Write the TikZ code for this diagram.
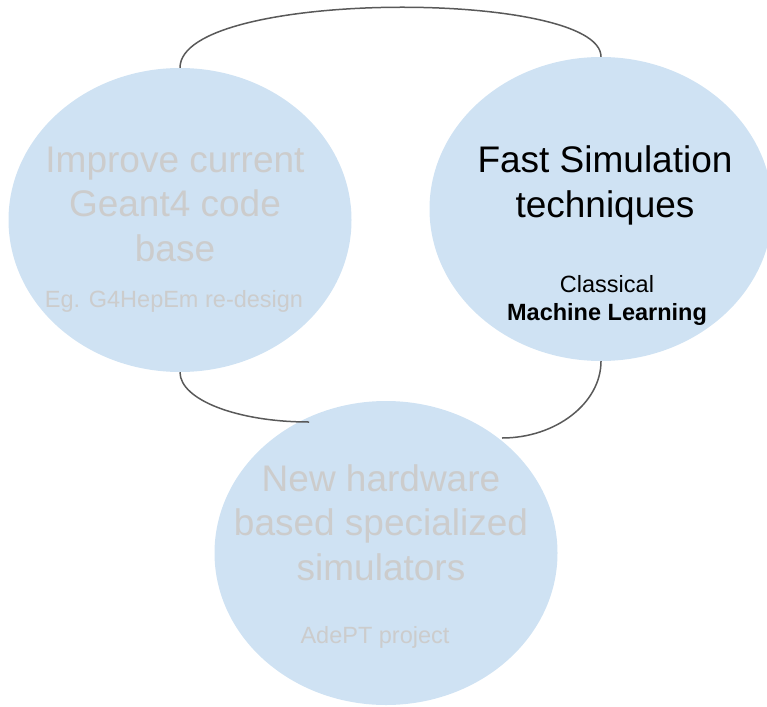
\documentclass[tikz,border=0pt]{standalone}
\usepackage{fontspec}
\setmainfont{Liberation Sans}
\usetikzlibrary{shapes.geometric}
\definecolor{bubble}{HTML}{CFE2F3}
\definecolor{faded}{HTML}{CCCCCC}
\definecolor{link}{HTML}{595959}
\begin{document}
\begin{tikzpicture}[x=1pt,y=-1pt,
  bubblenode/.style={ellipse,fill=bubble,draw=none,inner sep=0pt,minimum width=343pt,minimum height=304pt},
  bigtext/.style={anchor=base,align=center,inner sep=0pt,font=\fontsize{37}{44.5}\selectfont},
  smalltext/.style={anchor=base,align=center,inner sep=0pt,font=\fontsize{23.5}{28}\selectfont},
  linkline/.style={draw=link,line width=1.5pt}]
\useasboundingbox (0,0) rectangle (767,706);
\node[bubblenode] (left) at (180,220) {};
\node[bubblenode] (right) at (601,209) {};
\node[bubblenode] (bot) at (386,553) {};
\node[bigtext,text=faded] (lefttitle) at (175,261) {Improve current\\Geant4 code\\base};
\node[smalltext,text=faded] (leftsub) at (174,307) {Eg. G4HepEm re-design};
\node[bigtext,text=black] (righttitle) at (605,217) {Fast Simulation\\techniques};
\node[smalltext,text=black] (rightsub) at (607,320) {Classical\\\textbf{Machine Learning}};
\node[bigtext,text=faded] (bottitle) at (381,580) {New hardware\\based specialized\\simulators};
\node[smalltext,text=faded] (botsub) at (375,643) {AdePT project};
\coordinate (botA) at (309,422);
\coordinate (botB) at (502,438);
\draw[linkline] (left.north) .. controls (180,-11) and (601,-11) .. (right.north);
\draw[linkline] (left.south) .. controls (180,400) and (238,422) .. (botA);
\draw[linkline] (right.south) .. controls (601,403) and (556,438) .. (botB);
\end{tikzpicture}
\end{document}
